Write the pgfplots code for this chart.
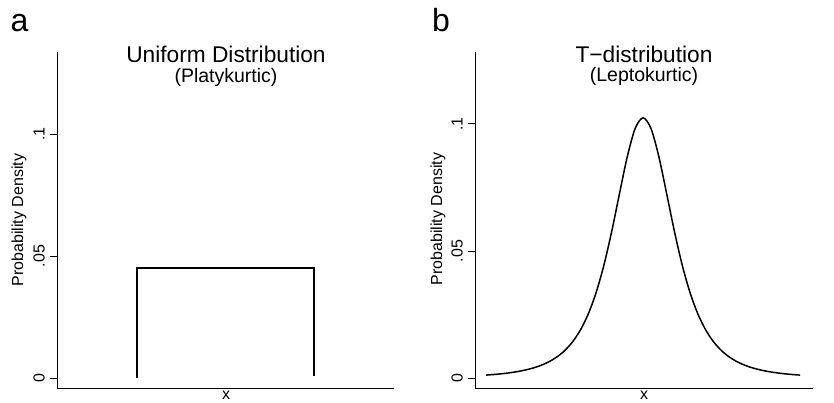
\documentclass[border=0pt]{standalone}
\usepackage{fontspec}
\setmainfont{Liberation Sans}
\usepackage{pgfplots}
\pgfplotsset{compat=1.18}

\pgfplotsset{
  panel/.style={
    scale only axis, anchor=south west,
    width=337pt, height=336pt,
    axis lines*=left,
    axis line style={line width=0.9pt, black},
    xtick=\empty,
    ytick={0,0.05,0.1}, yticklabels={0,.05,.1},
    tick align=outside, major tick length=7pt,
    tick style={line width=0.9pt, black},
    yticklabel style={xshift=-5.5pt, rotate=90, anchor=base, inner sep=0pt,
        font=\fontsize{16}{16}\selectfont},
    /pgf/number format/assume math mode=true,
    clip=false,
  },
  curve/.style={black, line width=1.5pt, no marks},
}

\begin{document}
\begin{tikzpicture}
\useasboundingbox (0,0) rectangle (834pt,402pt);

% panel a: uniform
\begin{axis}[panel, at={(57pt,14pt)},
    xmin=-0.452, xmax=1.452, ymin=-0.0041, ymax=0.1336]
\addplot[curve, sharp plot] coordinates {
    (0,0) (0,0.045) (1,0.045) (1,0.0007)};
\end{axis}

% panel b: t-distribution
\begin{axis}[panel, at={(475pt,14pt)}, width=338pt,
    xmin=-5.35, xmax=5.41, ymin=-0.0039, ymax=0.1283]
\addplot[curve, smooth, tension=0.5] coordinates {
    (-5,0.00118) (-4.75,0.00141) (-4.5,0.00170) (-4.25,0.00208) (-4,0.00255)
    (-3.75,0.00317) (-3.5,0.00396) (-3.25,0.00501) (-3,0.00640) (-2.75,0.00826)
    (-2.5,0.01077) (-2.25,0.01418) (-2,0.01881) (-1.75,0.02507) (-1.5,0.03344)
    (-1.25,0.04427) (-1,0.05760) (-0.75,0.07262) (-0.5,0.08725) (-0.25,0.09826)
    (0,0.1024)
    (0.25,0.09826) (0.5,0.08725) (0.75,0.07262) (1,0.05760) (1.25,0.04427)
    (1.5,0.03344) (1.75,0.02507) (2,0.01881) (2.25,0.01418) (2.5,0.01077)
    (2.75,0.00826) (3,0.00640) (3.25,0.00501) (3.5,0.00396) (3.75,0.00317)
    (4,0.00255) (4.25,0.00208) (4.5,0.00170) (4.75,0.00141) (5,0.00118)};
\end{axis}

% titles and labels
\node[anchor=base, font=\fontsize{22.7}{24}\selectfont] at (226pt,339pt) {Uniform Distribution};
\node[anchor=base, font=\fontsize{19.5}{21}\selectfont] at (226pt,319pt) {(Platykurtic)};
\node[anchor=base, font=\fontsize{22.7}{24}\selectfont] at (644pt,339pt) {T−distribution};
\node[anchor=base, font=\fontsize{19.5}{21}\selectfont] at (644pt,320pt) {(Leptokurtic)};

\node[anchor=base, font=\fontsize{32}{34}\selectfont] at (19.5pt,370pt) {a};
\node[anchor=base, font=\fontsize{32}{34}\selectfont] at (441pt,370pt) {b};

\node[anchor=base, rotate=90, font=\fontsize{16}{16}\selectfont] at (23pt,182pt) {Probability Density};
\node[anchor=base, rotate=90, font=\fontsize{16}{16}\selectfont] at (442pt,183pt) {Probability Density};

\node[anchor=base, inner sep=0pt, font=\fontsize{16}{16}\selectfont] at (226pt,3pt) {x};
\node[anchor=base, inner sep=0pt, font=\fontsize{16}{16}\selectfont] at (644pt,3pt) {x};
\end{tikzpicture}
\end{document}
